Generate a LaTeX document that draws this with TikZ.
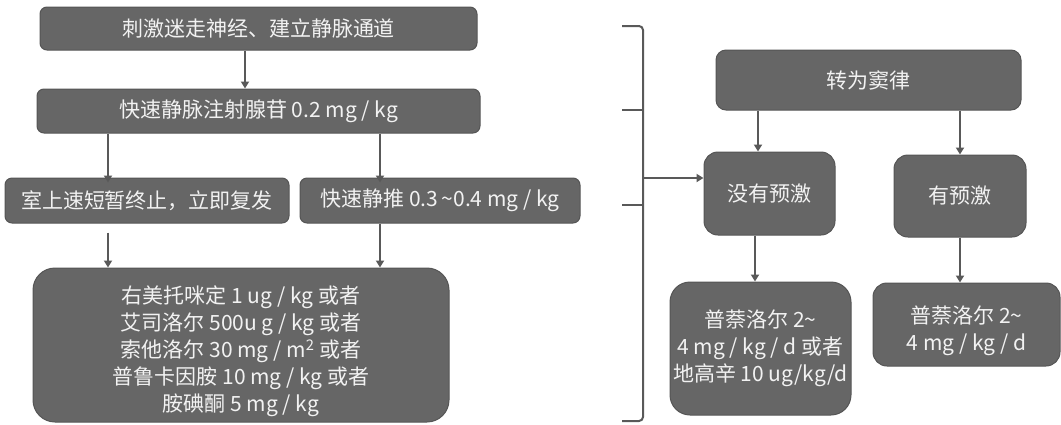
\documentclass[tikz,border=0pt]{standalone}
\usepackage{fontspec}
\setmainfont{Noto Sans CJK SC}
\usetikzlibrary{arrows.meta}
\definecolor{boxfill}{HTML}{666666}
\definecolor{boxedge}{HTML}{555555}
\definecolor{linec}{HTML}{595959}
\definecolor{txt}{HTML}{F2F2F2}
\begin{document}
\begin{tikzpicture}[x=1pt,y=-1pt,
  box/.style={draw=boxedge, fill=boxfill, line width=1pt, text=txt,
    font=\fontsize{21}{27}\selectfont, align=center, inner sep=0pt,
    rounded corners=7pt},
  arr/.style={draw=linec, line width=2pt, -{Triangle[length=7pt,width=8pt]}},
  brk/.style={draw=linec, line width=2pt}]
\useasboundingbox (0,0) rectangle (1061,424);
% left column
\node[box, minimum width=437pt, minimum height=43pt] (b1) at (258.5,28.5) {刺激迷走神经、建立静脉通道};
\node[box, minimum width=443pt, minimum height=44pt] (b2) at (258.5,111) {快速静脉注射腺苷 0.2 mg / kg};
\node[box, minimum width=284pt, minimum height=45pt] (b3) at (147,200.5) {室上速短暂终止，立即复发};
\node[box, minimum width=280pt, minimum height=45pt] (b4) at (440,200.5) {快速静推 0.3\,\textasciitilde0.4 mg / kg};
\node[box, minimum width=416pt, minimum height=154pt, rounded corners=22pt] (b5) at (241,345)
  {\rule{0pt}{31pt}右美托咪定 1 ug / kg 或者\\艾司洛尔 500u g / kg 或者\\索他洛尔 30 mg / m\textsuperscript{2} 或者\\普鲁卡因胺 10 mg / kg 或者\\胺碘酮 5 mg / kg};
% right column
\node[box, minimum width=305pt, minimum height=60pt, rounded corners=10pt] (sr) at (868.5,80) {转为窦律};
\node[box, minimum width=131pt, minimum height=83pt, rounded corners=14pt] (nm) at (769.5,193.5) {没有预激};
\node[box, minimum width=132pt, minimum height=82pt, rounded corners=14pt] (ym) at (960,196) {有预激};
\node[box, minimum width=181pt, minimum height=133pt, rounded corners=20pt] (p1) at (760.5,348.5)
  {普萘洛尔 2\textasciitilde\\4 mg / kg / d 或者\\地高辛 10 ug/kg/d};
\node[box, minimum width=187pt, minimum height=83pt, rounded corners=14pt] (p2) at (966.5,324.5)
  {\rule{0pt}{30pt}普萘洛尔 2\textasciitilde\\4 mg / kg / d};
% helper x positions
\coordinate (xa) at (245,0);
\coordinate (xb) at (108,0);
\coordinate (xc) at (380,0);
\coordinate (xd) at (758,0);
\coordinate (xe) at (960,0);
\coordinate (xf) at (755,0);
% connectors
\draw[arr] (b1.south -| xa) -- (b2.north -| xa);
\draw[arr] (b2.south -| xb) -- ([yshift=-5pt]b3.north -| xb);
\draw[arr] (b2.south -| xc) -- ([yshift=-5pt]b4.north -| xc);
\draw[arr, shorten <=9pt] (b3.south -| xb) -- (b5.north -| xb);
\draw[arr] (b4.south -| xc) -- (b5.north -| xc);
\draw[arr] (sr.south -| xd) -- (nm.north -| xd);
\draw[arr] (sr.south -| xe) -- (ym.north -| xe);
\draw[arr] (nm.south -| xf) -- (p1.north -| xf);
\draw[arr] (ym.south -| xe) -- (p2.north -| xe);
% bracket
\coordinate (bt1) at (622,26);
\coordinate (bt2) at (643,26);
\coordinate (bb2) at (643,421);
\coordinate (bb1) at (622,421);
\draw[brk, rounded corners=4pt] (bt1) -- (bt2) -- (bb2) -- (bb1);
\coordinate (m1a) at (622,110);
\coordinate (m1b) at (643,110);
\coordinate (m2a) at (622,205);
\coordinate (m2b) at (643,205);
\draw[brk] (m1a) -- (m1b);
\draw[brk] (m2a) -- (m2b);
\coordinate (br) at (643,178);
\draw[arr] (br) -- (nm.west |- br);
\end{tikzpicture}
\end{document}
